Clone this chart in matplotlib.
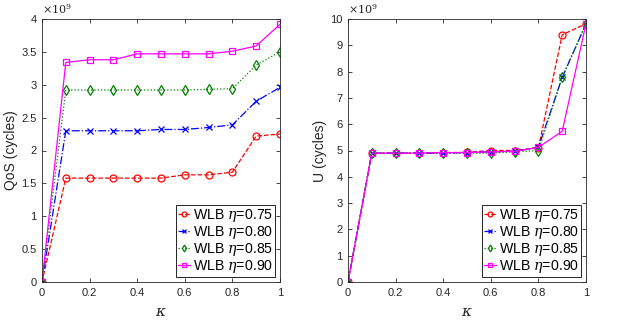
"""WLB QoS and U versus kappa for several eta values."""

import matplotlib

matplotlib.use("Agg")
import matplotlib.pyplot as plt
from matplotlib.ticker import FuncFormatter, MultipleLocator

plt.rcParams["font.family"] = ["Liberation Sans", "DejaVu Sans"]
plt.rcParams["mathtext.fontset"] = "dejavuserif"

# Data (values in units of 1e9 cycles)
kappa = [0, 0.1, 0.2, 0.3, 0.4, 0.5, 0.6, 0.7, 0.8, 0.9, 1.0]
eta_labels = ["0.75", "0.80", "0.85", "0.90"]

qos_075 = [0, 1.58, 1.58, 1.58, 1.58, 1.58, 1.63, 1.63, 1.67, 2.22, 2.25]
qos_080 = [0, 2.30, 2.30, 2.30, 2.30, 2.32, 2.32, 2.35, 2.39, 2.75, 2.96]
qos_085 = [0, 2.92, 2.92, 2.92, 2.92, 2.92, 2.92, 2.93, 2.94, 3.30, 3.50]
qos_090 = [0, 3.34, 3.38, 3.38, 3.47, 3.47, 3.47, 3.47, 3.51, 3.59, 3.92]

u_075 = [0, 4.90, 4.90, 4.90, 4.92, 4.93, 5.00, 5.00, 5.10, 9.40, 9.82]
u_080 = [0, 4.90, 4.90, 4.90, 4.90, 4.92, 4.95, 4.97, 5.12, 7.78, 9.82]
u_085 = [0, 4.90, 4.90, 4.90, 4.90, 4.90, 4.90, 4.95, 5.00, 7.78, 9.82]
u_090 = [0, 4.90, 4.90, 4.90, 4.92, 4.92, 4.95, 4.97, 5.12, 5.73, 9.82]

styles = [
    dict(color="red", linestyle="--", marker="o", mfc="none"),
    dict(color="blue", linestyle="-.", marker="x", mfc="none"),
    dict(color="green", linestyle=":", marker="d", mfc="none"),
    dict(color="magenta", linestyle="-", marker="s", mfc="none"),
]

fig = plt.figure(figsize=(6.24, 3.2), dpi=100)
ax1 = fig.add_axes([42 / 624, 38 / 320, 238 / 624, 263 / 320])
ax2 = fig.add_axes([348 / 624, 38 / 320, 238 / 624, 263 / 320])

fmt = FuncFormatter(lambda v, p: "%g" % v)
tick_color = "#262626"


def draw(ax, series, ylabel, ymax, ystep):
    for vals, eta, st in zip(series, eta_labels, styles):
        ax.plot(kappa, vals, linewidth=0.9, markersize=5, markeredgewidth=0.9,
                label=r"WLB $\eta$=" + eta, **st)
    ax.set_xlim(0, 1)
    ax.set_ylim(0, ymax)
    ax.xaxis.set_major_locator(MultipleLocator(0.2))
    ax.yaxis.set_major_locator(MultipleLocator(ystep))
    ax.xaxis.set_major_formatter(fmt)
    ax.yaxis.set_major_formatter(fmt)
    ax.tick_params(direction="in", top=True, right=True, labelsize=8,
                   colors=tick_color, length=3, width=0.6, pad=4)
    for sp in ax.spines.values():
        sp.set_color(tick_color)
        sp.set_linewidth(0.6)
    ax.set_xlabel(r"$\kappa$", fontsize=11, color=tick_color, labelpad=5)
    ax.set_ylabel(ylabel, fontsize=10, color=tick_color, labelpad=2)
    ax.text(0, 1.01, r"$\times 10^{9}$", transform=ax.transAxes,
            fontsize=8, color=tick_color, va="bottom", ha="left")
    leg = ax.legend(loc="lower right", fontsize=10.2, handlelength=0.85,
                    handletextpad=0.2, borderpad=0.15, labelspacing=0.0,
                    borderaxespad=0.35, markerscale=0.7, fancybox=False,
                    framealpha=1)
    leg.get_frame().set_edgecolor("black")
    leg.get_frame().set_linewidth(0.6)


draw(ax1, [qos_075, qos_080, qos_085, qos_090], "QoS (cycles)", 4, 0.5)
draw(ax2, [u_075, u_080, u_085, u_090], "U (cycles)", 10, 1)

fig.savefig("out.png", dpi=100)
